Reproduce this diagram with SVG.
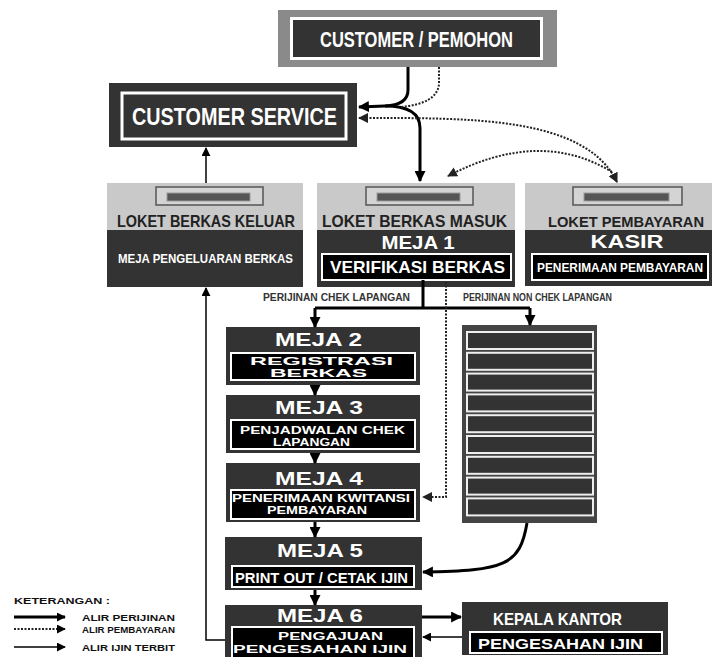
<svg xmlns="http://www.w3.org/2000/svg" width="712" height="657" viewBox="0 0 712 657">
<style>
text{font-family:"Liberation Sans",Arial,sans-serif;font-weight:bold}
.w{fill:#fff}
.d{fill:#222}
.dark{fill:#333}
.inner{fill:#000;stroke:#fff;stroke-width:2}
.gray{fill:#c9c9c9}
.thick{stroke:#000;stroke-width:3;fill:none}
.thin{stroke:#000;stroke-width:1.5;fill:none}
.dot{stroke:#222;stroke-width:2;stroke-dasharray:2 1.5;fill:none}
.slot{fill:#d4d4d4;stroke:#555;stroke-width:1.5}
.bar{fill:#555;stroke:#999;stroke-width:1}
.row{fill:#333;stroke:#eee;stroke-width:2}
</style>
<defs>
<marker id="ah" viewBox="0 0 10 10" refX="9" refY="5" markerWidth="11" markerHeight="11" markerUnits="userSpaceOnUse" orient="auto"><path d="M0,0 L10,5 L0,10 z" fill="#000"/></marker>
<marker id="ahs" viewBox="0 0 10 10" refX="9" refY="5" markerWidth="9" markerHeight="9" markerUnits="userSpaceOnUse" orient="auto"><path d="M0,0 L10,5 L0,10 z" fill="#000"/></marker>
<marker id="ahd" viewBox="0 0 10 10" refX="9" refY="5" markerWidth="10" markerHeight="10" markerUnits="userSpaceOnUse" orient="auto-start-reverse"><path d="M0,0 L10,5 L0,10 z" fill="#222"/></marker>
</defs>
<rect width="712" height="657" fill="#fff"/>

<g id="customer">
<rect x="278" y="10" width="279" height="57" fill="#8a8a8a"/>
<rect x="290" y="17" width="253" height="43" fill="#fff"/>
<rect x="293" y="20" width="247" height="37" class="dark"/>
<text x="416.5" y="47" font-size="22" class="w" text-anchor="middle" textLength="193" lengthAdjust="spacingAndGlyphs">CUSTOMER / PEMOHON</text>
</g>

<g id="cs">
<rect x="109" y="83" width="248" height="64" class="dark"/>
<rect x="122" y="93" width="224" height="46" fill="none" stroke="#fff" stroke-width="3"/>
<text x="234.5" y="125" font-size="23" class="w" text-anchor="middle" textLength="205" lengthAdjust="spacingAndGlyphs">CUSTOMER SERVICE</text>
</g>

<g id="loket-keluar">
<rect x="107" y="183" width="196" height="47" class="gray"/>
<rect x="107" y="230" width="196" height="57" class="dark"/>
<rect x="156" y="187" width="107" height="18" class="slot"/>
<rect x="167" y="193" width="83" height="8" class="bar"/>
<text x="206" y="227" font-size="17" class="d" text-anchor="middle" textLength="178" lengthAdjust="spacingAndGlyphs">LOKET BERKAS KELUAR</text>
<text x="205.5" y="263" font-size="13" class="w" text-anchor="middle" textLength="175" lengthAdjust="spacingAndGlyphs">MEJA PENGELUARAN BERKAS</text>
</g>

<g id="loket-masuk">
<rect x="317" y="183" width="198" height="47" class="gray"/>
<rect x="317" y="230" width="198" height="57" class="dark"/>
<rect x="366" y="187" width="107" height="18" class="slot"/>
<rect x="377" y="193" width="83" height="8" class="bar"/>
<text x="414.5" y="227" font-size="17" class="d" text-anchor="middle" textLength="185" lengthAdjust="spacingAndGlyphs">LOKET BERKAS MASUK</text>
<text x="418" y="249" font-size="19" class="w" text-anchor="middle" textLength="73" lengthAdjust="spacingAndGlyphs">MEJA 1</text>
<rect x="322" y="254" width="189" height="26" class="inner"/>
<text x="417.5" y="273" font-size="17" class="w" text-anchor="middle" textLength="175" lengthAdjust="spacingAndGlyphs">VERIFIKASI BERKAS</text>
</g>

<g id="loket-bayar">
<rect x="525" y="183" width="187" height="47" class="gray"/>
<rect x="525" y="230" width="187" height="56" class="dark"/>
<rect x="573" y="187" width="109" height="18" class="slot"/>
<rect x="584" y="193" width="85" height="8" class="bar"/>
<text x="626" y="227" font-size="15.5" class="d" text-anchor="middle" textLength="156" lengthAdjust="spacingAndGlyphs">LOKET PEMBAYARAN</text>
<text x="627" y="248" font-size="19" class="w" text-anchor="middle" textLength="73" lengthAdjust="spacingAndGlyphs">KASIR</text>
<rect x="532" y="254" width="176" height="26" class="inner"/>
<text x="620" y="272" font-size="12" class="w" text-anchor="middle" textLength="166" lengthAdjust="spacingAndGlyphs">PENERIMAAN PEMBAYARAN</text>
</g>

<g id="meja2">
<rect x="226" y="327" width="194" height="58" class="dark"/>
<text x="318.5" y="346" font-size="18" class="w" text-anchor="middle" textLength="87" lengthAdjust="spacingAndGlyphs">MEJA 2</text>
<rect x="231" y="353" width="184" height="27" class="inner"/>
<text x="321.5" y="365" font-size="11" class="w" text-anchor="middle" textLength="143" lengthAdjust="spacingAndGlyphs">REGISTRASI</text>
<text x="318.5" y="377" font-size="11" class="w" text-anchor="middle" textLength="97" lengthAdjust="spacingAndGlyphs">BERKAS</text>
</g>

<g id="meja3">
<rect x="226" y="395" width="194" height="58" class="dark"/>
<text x="319" y="414" font-size="18" class="w" text-anchor="middle" textLength="88" lengthAdjust="spacingAndGlyphs">MEJA 3</text>
<rect x="231" y="420" width="184" height="29" class="inner"/>
<text x="322.5" y="434" font-size="11" class="w" text-anchor="middle" textLength="165" lengthAdjust="spacingAndGlyphs">PENJADWALAN CHEK</text>
<text x="311.5" y="446" font-size="11" class="w" text-anchor="middle" textLength="77" lengthAdjust="spacingAndGlyphs">LAPANGAN</text>
</g>

<g id="meja4">
<rect x="226" y="463" width="194" height="59" class="dark"/>
<text x="319" y="485" font-size="18" class="w" text-anchor="middle" textLength="88" lengthAdjust="spacingAndGlyphs">MEJA 4</text>
<rect x="231" y="490" width="184" height="29" class="inner"/>
<text x="321" y="502" font-size="11" class="w" text-anchor="middle" textLength="178" lengthAdjust="spacingAndGlyphs">PENERIMAAN KWITANSI</text>
<text x="317" y="514" font-size="11" class="w" text-anchor="middle" textLength="100" lengthAdjust="spacingAndGlyphs">PEMBAYARAN</text>
</g>

<g id="meja5">
<rect x="225" y="537" width="197" height="53" class="dark"/>
<text x="320" y="557" font-size="18" class="w" text-anchor="middle" textLength="86" lengthAdjust="spacingAndGlyphs">MEJA 5</text>
<rect x="232" y="566" width="182" height="21" class="inner"/>
<text x="321.5" y="583" font-size="14" class="w" text-anchor="middle" textLength="173" lengthAdjust="spacingAndGlyphs">PRINT OUT / CETAK IJIN</text>
</g>

<g id="meja6">
<rect x="225" y="605" width="197" height="52" class="dark"/>
<text x="320" y="622" font-size="18" class="w" text-anchor="middle" textLength="86" lengthAdjust="spacingAndGlyphs">MEJA 6</text>
<rect x="232" y="627" width="182" height="32" class="inner"/>
<text x="330.5" y="640" font-size="11" class="w" text-anchor="middle" textLength="105" lengthAdjust="spacingAndGlyphs">PENGAJUAN</text>
<text x="320" y="653" font-size="11" class="w" text-anchor="middle" textLength="174" lengthAdjust="spacingAndGlyphs">PENGESAHAN IJIN</text>
</g>

<g id="kepala">
<rect x="462" y="602" width="206" height="53" class="dark"/>
<text x="557.5" y="625" font-size="17" class="w" text-anchor="middle" textLength="129" lengthAdjust="spacingAndGlyphs">KEPALA KANTOR</text>
<rect x="470" y="632" width="192" height="21" class="inner"/>
<text x="560.5" y="649" font-size="15" class="w" text-anchor="middle" textLength="165" lengthAdjust="spacingAndGlyphs">PENGESAHAN IJIN</text>
</g>

<g id="non-chek">
<rect x="462" y="325" width="135" height="198" fill="#444"/>
<rect x="467" y="332" width="126" height="17" class="row"/>
<rect x="467" y="352.8" width="126" height="17" class="row"/>
<rect x="467" y="373.6" width="126" height="17" class="row"/>
<rect x="467" y="394.4" width="126" height="17" class="row"/>
<rect x="467" y="415.2" width="126" height="17" class="row"/>
<rect x="467" y="436" width="126" height="17" class="row"/>
<rect x="467" y="456.8" width="126" height="17" class="row"/>
<rect x="467" y="477.6" width="126" height="17" class="row"/>
<rect x="467" y="498.4" width="126" height="17" class="row"/>
</g>

<g id="labels">
<text x="336.5" y="301" font-size="11" fill="#333" text-anchor="middle" textLength="147" lengthAdjust="spacingAndGlyphs">PERIJINAN  CHEK LAPANGAN</text>
<text x="537.5" y="301" font-size="11" fill="#333" text-anchor="middle" textLength="149" lengthAdjust="spacingAndGlyphs">PERIJINAN NON CHEK LAPANGAN</text>
</g>

<g id="connectors">
<path class="thick" d="M408 67 L408 90 Q408 105 385 106 L359 107" marker-end="url(#ah)"/>
<path class="thick" d="M385 106 Q420 106 420 128 L420 181" marker-end="url(#ah)"/>
<path class="dot" d="M439 67 L439 84 Q437 104 400 107"/>
<path class="dot" d="M359 118 C470 118 585 116 617 182" marker-start="url(#ahd)" marker-end="url(#ahd)"/>
<path class="dot" d="M612 172 Q540 128 448 176" marker-end="url(#ahd)"/>
<path class="thin" d="M206 183 L206 148" marker-end="url(#ahs)"/>
<path class="thick" d="M423 280 L423 308"/>
<path class="thick" d="M315 308 L530 308"/>
<path class="thick" d="M315 308 L315 327" marker-end="url(#ah)"/>
<path class="thick" d="M530 308 L530 325" marker-end="url(#ah)"/>
<path class="dot" d="M446 282 L446 497 L423 497" marker-end="url(#ahd)"/>
<path class="thick" d="M315 385 L315 395" marker-end="url(#ah)"/>
<path class="thick" d="M315 453 L315 463" marker-end="url(#ah)"/>
<path class="thick" d="M315 522 L315 537" marker-end="url(#ah)"/>
<path class="thick" d="M315 590 L315 605" marker-end="url(#ah)"/>
<path class="thick" d="M527 523 C520 565 505 571 423 572" marker-end="url(#ah)"/>
<path class="thick" d="M422 617 L461 617" marker-end="url(#ah)"/>
<path class="thin" d="M462 637 L423 637" marker-end="url(#ahs)"/>
<path class="thin" d="M225 640 L206 640 L206 288" marker-end="url(#ahs)"/>
</g>

<g id="legend">
<text x="14" y="604" font-size="9" fill="#111" textLength="96" lengthAdjust="spacingAndGlyphs">KETERANGAN :</text>
<path class="thick" d="M14 617 L65 617" marker-end="url(#ahs)"/>
<path class="dot" d="M14 629 L65 629" stroke-width="1.5" marker-end="url(#ahs)"/>
<path class="thin" d="M14 647 L65 647" marker-end="url(#ahs)"/>
<text x="82" y="621" font-size="9" fill="#111" textLength="93" lengthAdjust="spacingAndGlyphs">ALIR PERIJINAN</text>
<text x="82" y="633" font-size="9" fill="#111" textLength="93" lengthAdjust="spacingAndGlyphs">ALIR PEMBAYARAN</text>
<text x="82" y="651" font-size="9" fill="#111" textLength="93" lengthAdjust="spacingAndGlyphs">ALIR IJIN TERBIT</text>
</g>
</svg>
